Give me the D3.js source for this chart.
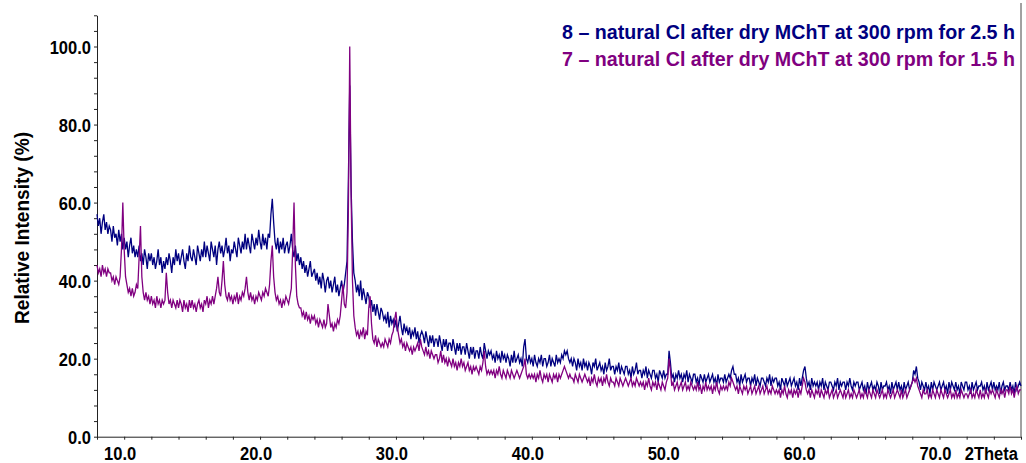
<!DOCTYPE html>
<html>
<head>
<meta charset="utf-8">
<script src="https://cdnjs.cloudflare.com/ajax/libs/d3/7.8.5/d3.min.js"></script>
<style>
  body { margin: 0; background: #fff; }
  text { font-family: "Liberation Sans", Arial, sans-serif; font-weight: bold; }
</style>
</head>
<body>
<script>
// 2Theta grid of the scan
var thetaStart = 8.0, thetaStep = 0.1;

// 8 - 2.5 h (navy), one row per degree, 8.0 .. 76.0
var series8 = [
  57,54,56,52,55,57,53,55,52,54,
  53,50,54,51,52,49,53,50,52,48,
  51,48,50,46,49,51,47,49,46,48,
  46,49,45,47,44,48,46,43,47,45,
  47,44,46,43,45,48,44,46,42,45,
  43,46,44,47,45,42,46,44,48,45,
  47,44,46,48,45,43,47,45,49,46,
  45,48,46,44,49,47,45,48,46,50,
  46,49,47,45,50,48,46,49,44,48,
  50,47,49,46,48,51,47,49,45,48,
  47,50,48,46,51,49,47,50,48,52,
  48,51,49,47,52,50,48,51,49,53,
  50,48,52,49,51,48,52,51,57,61,
  55,50,48,51,47,50,48,51,47,49,
  50,47,49,52,48,46,49,45,47,44,
  46,43,45,42,44,41,43,45,41,42,
  43,40,42,39,41,38,42,40,37,40,
  41,38,40,37,39,41,37,39,36,38,
  40,37,39,42,45,66,90,64,50,42,
  40,37,39,36,40,35,38,36,34,37,
  36,33,35,32,34,31,34,32,30,33,
  32,30,31,29,32,28,31,29,30,28,
  30,27,29,31,28,26,29,27,28,26,
  28,25,27,26,28,25,27,24,26,27,
  26,24,27,25,23,26,24,26,23,25,
  25,23,26,24,22,25,23,25,22,24,
  24,22,25,23,21,24,22,24,21,23,
  23,21,24,22,20,23,21,23,20,22,
  22,20,23,21,20,24,22,20,22,21,
  22,20,21,19,22,20,21,19,22,20,
  21,19,21,20,18,21,19,22,19,20,
  21,19,20,18,23,25,20,19,21,19,
  20,18,21,19,18,20,19,21,18,20,
  20,18,19,21,18,20,19,18,21,19,
  20,19,21,20,22,21,22,20,19,20,
  18,20,19,17,20,18,19,17,20,18,
  19,17,19,18,16,19,18,20,17,18,
  19,17,18,16,19,17,18,20,17,18,
  18,16,18,17,19,16,18,17,16,18,
  18,16,17,15,18,16,17,19,16,17,
  17,15,17,16,18,15,17,16,15,17,
  17,15,16,14,17,16,15,17,15,16,
  16,22,19,15,16,14,16,15,17,15,
  16,14,16,15,17,14,16,15,14,16,
  16,14,15,13,16,15,14,16,14,15,
  16,14,15,16,14,15,13,16,14,15,
  15,14,16,14,15,16,15,17,18,16,
  16,14,15,13,16,14,15,16,14,15,
  15,13,15,14,16,13,15,14,13,15,
  15,14,13,15,14,16,13,15,14,15,
  15,13,14,12,15,14,13,15,13,14,
  15,13,14,15,13,14,12,15,13,15,
  17,18,15,13,14,12,15,13,14,13,
  14,12,14,13,15,12,14,13,12,14,
  14,13,12,14,13,15,12,14,13,14,
  14,12,14,13,15,13,12,14,13,14,
  14,12,13,14,12,13,11,14,12,13,
  14,12,13,12,14,13,11,14,12,13,
  13,14,12,13,11,14,12,13,14,12,
  14,12,13,11,14,12,13,14,12,13,
  14,17,16,18,15,14,12,14,13,12,
  14,12,13,11,14,12,14,13,12,13,
  14,12,13,14,12,13,11,14,12,14,
  13,12,14,12,13,11,14,13,12,14,
  14,12,13,11,14,12,13,14,12,13,
  13,14,12,13,11,14,12,13,14,12,
  14,12,13,12,14,11,13,14,12,13,
  13,12,14,12,13,11,14,12,13,14,
  13
];

// 7 - 1.5 h (purple), same grid
var series7 = [
  44,42,43,41,44,42,43,41,43,42,
  42,40,41,39,41,40,39,41,48,60,
  48,41,39,37,38,36,38,36,37,39,
  38,46,54,41,37,35,37,35,36,34,
  36,34,35,33,36,34,35,33,35,34,
  35,42,37,34,35,33,35,34,33,35,
  33,35,34,32,35,33,34,32,35,33,
  35,33,34,32,34,35,33,34,32,35,
  34,36,33,35,34,36,34,36,38,41,
  37,36,40,45,39,36,35,37,35,36,
  34,36,35,37,34,36,35,37,36,38,
  41,37,35,37,35,36,34,36,35,37,
  36,35,37,36,38,37,36,39,45,49,
  41,37,35,36,34,35,33,35,34,36,
  35,34,36,38,48,60,44,36,34,33,
  33,31,32,30,32,30,31,29,31,30,
  31,29,30,28,30,29,28,30,28,29,
  34,31,28,29,27,29,28,30,29,31,
  35,39,34,33,37,58,100,62,40,31,
  28,26,27,25,27,26,28,25,27,26,
  33,36,29,25,24,26,23,25,24,23,
  24,23,25,24,23,25,24,26,27,30,
  32,28,26,24,25,23,24,22,24,23,
  22,23,21,23,22,23,24,22,25,23,
  22,21,23,21,22,20,22,21,20,21,
  21,19,20,22,19,21,19,20,18,20,
  19,18,20,18,19,17,19,18,20,18,
  19,17,18,19,17,18,16,18,17,18,
  17,16,18,17,19,22,18,16,17,16,
  17,16,17,15,17,16,18,16,15,17,
  16,15,17,16,15,17,16,15,16,17,
  16,15,16,17,18,20,16,15,16,15,
  16,15,16,14,16,15,17,15,14,16,
  15,16,14,16,15,14,16,15,16,14,
  16,15,16,17,18,17,16,15,16,15,
  15,14,16,15,14,16,15,14,15,16,
  15,14,15,13,15,14,16,14,13,15,
  14,15,13,15,14,16,14,13,15,14,
  14,13,15,14,13,15,14,13,14,15,
  14,13,14,15,13,14,13,15,14,13,
  14,13,14,12,14,13,15,13,12,14,
  13,14,12,14,13,12,14,13,12,14,
  15,20,17,13,14,12,13,14,12,13,
  14,12,13,14,12,13,12,14,13,12,
  13,12,14,12,13,11,13,12,14,12,
  13,12,13,11,13,12,14,12,11,13,
  12,13,12,13,12,14,13,15,14,13,
  12,13,11,13,12,11,13,12,13,11,
  12,13,11,12,13,11,12,13,11,12,
  13,11,12,13,11,12,11,13,12,11,
  12,11,12,10,12,11,13,11,10,12,
  11,12,10,12,11,12,10,12,11,13,
  15,14,12,11,12,10,12,11,10,12,
  11,12,10,12,11,10,12,11,12,10,
  11,12,10,11,12,10,11,12,11,10,
  12,10,11,12,10,11,10,12,11,10,
  11,12,10,11,10,12,11,10,12,11,
  10,12,11,10,12,11,10,11,12,10,
  11,10,12,11,10,11,12,10,11,12,
  11,10,12,10,11,12,10,11,12,13,
  14,15,14,15,13,12,11,10,12,11,
  11,12,10,11,10,12,11,10,12,11,
  10,12,11,10,12,11,10,11,12,10,
  11,10,12,10,11,10,12,11,10,11,
  11,10,11,12,10,11,10,12,11,10,
  12,10,11,10,12,11,10,12,11,12,
  11,10,12,11,10,12,11,12,10,12,
  12,11,13,11,12,10,12,13,11,12,
  12
];

var xLabels = [10, 20, 30, 40, 50, 60, 70];
var yLabels = [0, 20, 40, 60, 80, 100];
var legendLabels = [
  "8 \u2013 natural Cl after dry MChT at 300 rpm for 2.5 h",
  "7 \u2013 natural Cl after dry MChT at 300 rpm for 1.5 h"
];
var seriesColors = ["#000080", "#800080"];

var width = 1026, height = 463;

var svg = d3.select("body").append("svg")
  .attr("width", width)
  .attr("height", height);

var x = d3.scaleLinear().domain([8, 76]).range([97, 1021]);
var y = d3.scaleLinear().domain([0, 108]).range([436.7, 15.3]);

// axes: minor ticks every 2 deg / 4 %
svg.append("g")
  .attr("transform", "translate(0," + y(0) + ")")
  .call(d3.axisBottom(x).tickValues(d3.range(8, 76.1, 2)).tickSize(3).tickSizeOuter(0).tickFormat(""))
  .call(function(g) { g.selectAll("path, line").attr("stroke", "#222"); });

svg.append("g")
  .attr("transform", "translate(" + x(8) + ",0)")
  .call(d3.axisLeft(y).tickValues(d3.range(0, 108.1, 4)).tickSize(3).tickSizeOuter(0).tickFormat(""))
  .call(function(g) { g.selectAll("path, line").attr("stroke", "#222"); });

// right frame line
svg.append("line")
  .attr("x1", x(76)).attr("x2", x(76))
  .attr("y1", 3).attr("y2", y(0))
  .attr("stroke", "#444")
  .attr("stroke-width", 1);

// tick labels
svg.selectAll(".ylab")
  .data(yLabels)
  .enter().append("text")
  .attr("class", "ylab")
  .attr("text-anchor", "end")
  .attr("font-size", 19)
  .attr("fill", "#000")
  .attr("transform", function(d) { return "translate(91," + (y(d) + 7) + ") scale(0.87,1)"; })
  .text(function(d) { return d.toFixed(1); });

svg.selectAll(".xlab")
  .data(xLabels)
  .enter().append("text")
  .attr("class", "xlab")
  .attr("text-anchor", "middle")
  .attr("font-size", 19)
  .attr("fill", "#000")
  .attr("transform", function(d) { return "translate(" + (x(d) - 4) + ",460) scale(0.87,1)"; })
  .text(function(d) { return d.toFixed(1); });

svg.append("text")
  .attr("text-anchor", "end")
  .attr("font-size", 19)
  .attr("fill", "#000")
  .attr("transform", "translate(1018,460) scale(0.87,1)")
  .text("2Theta");

svg.append("text")
  .attr("text-anchor", "middle")
  .attr("font-size", 20)
  .attr("fill", "#000")
  .attr("transform", "translate(29,228) rotate(-90)")
  .attr("textLength", 192)
  .attr("lengthAdjust", "spacingAndGlyphs")
  .text("Relative Intensity (%)");

// patterns
var line = d3.line()
  .x(function(d, i) { return x(thetaStart + i * thetaStep); })
  .y(function(d) { return y(d); });

[series8, series7].forEach(function(s, k) {
  svg.append("path")
    .datum(s)
    .attr("fill", "none")
    .attr("stroke", seriesColors[k])
    .attr("stroke-width", 1.3)
    .attr("stroke-linejoin", "miter")
    .attr("d", line);
});

// legend
svg.selectAll(".legend")
  .data(legendLabels)
  .enter().append("text")
  .attr("class", "legend")
  .attr("x", 1015)
  .attr("y", function(d, i) { return 38.5 + i * 27; })
  .attr("text-anchor", "end")
  .attr("font-size", 20)
  .attr("fill", function(d, i) { return seriesColors[i]; })
  .attr("textLength", 453)
  .attr("lengthAdjust", "spacingAndGlyphs")
  .text(function(d) { return d; });
</script>
</body>
</html>
